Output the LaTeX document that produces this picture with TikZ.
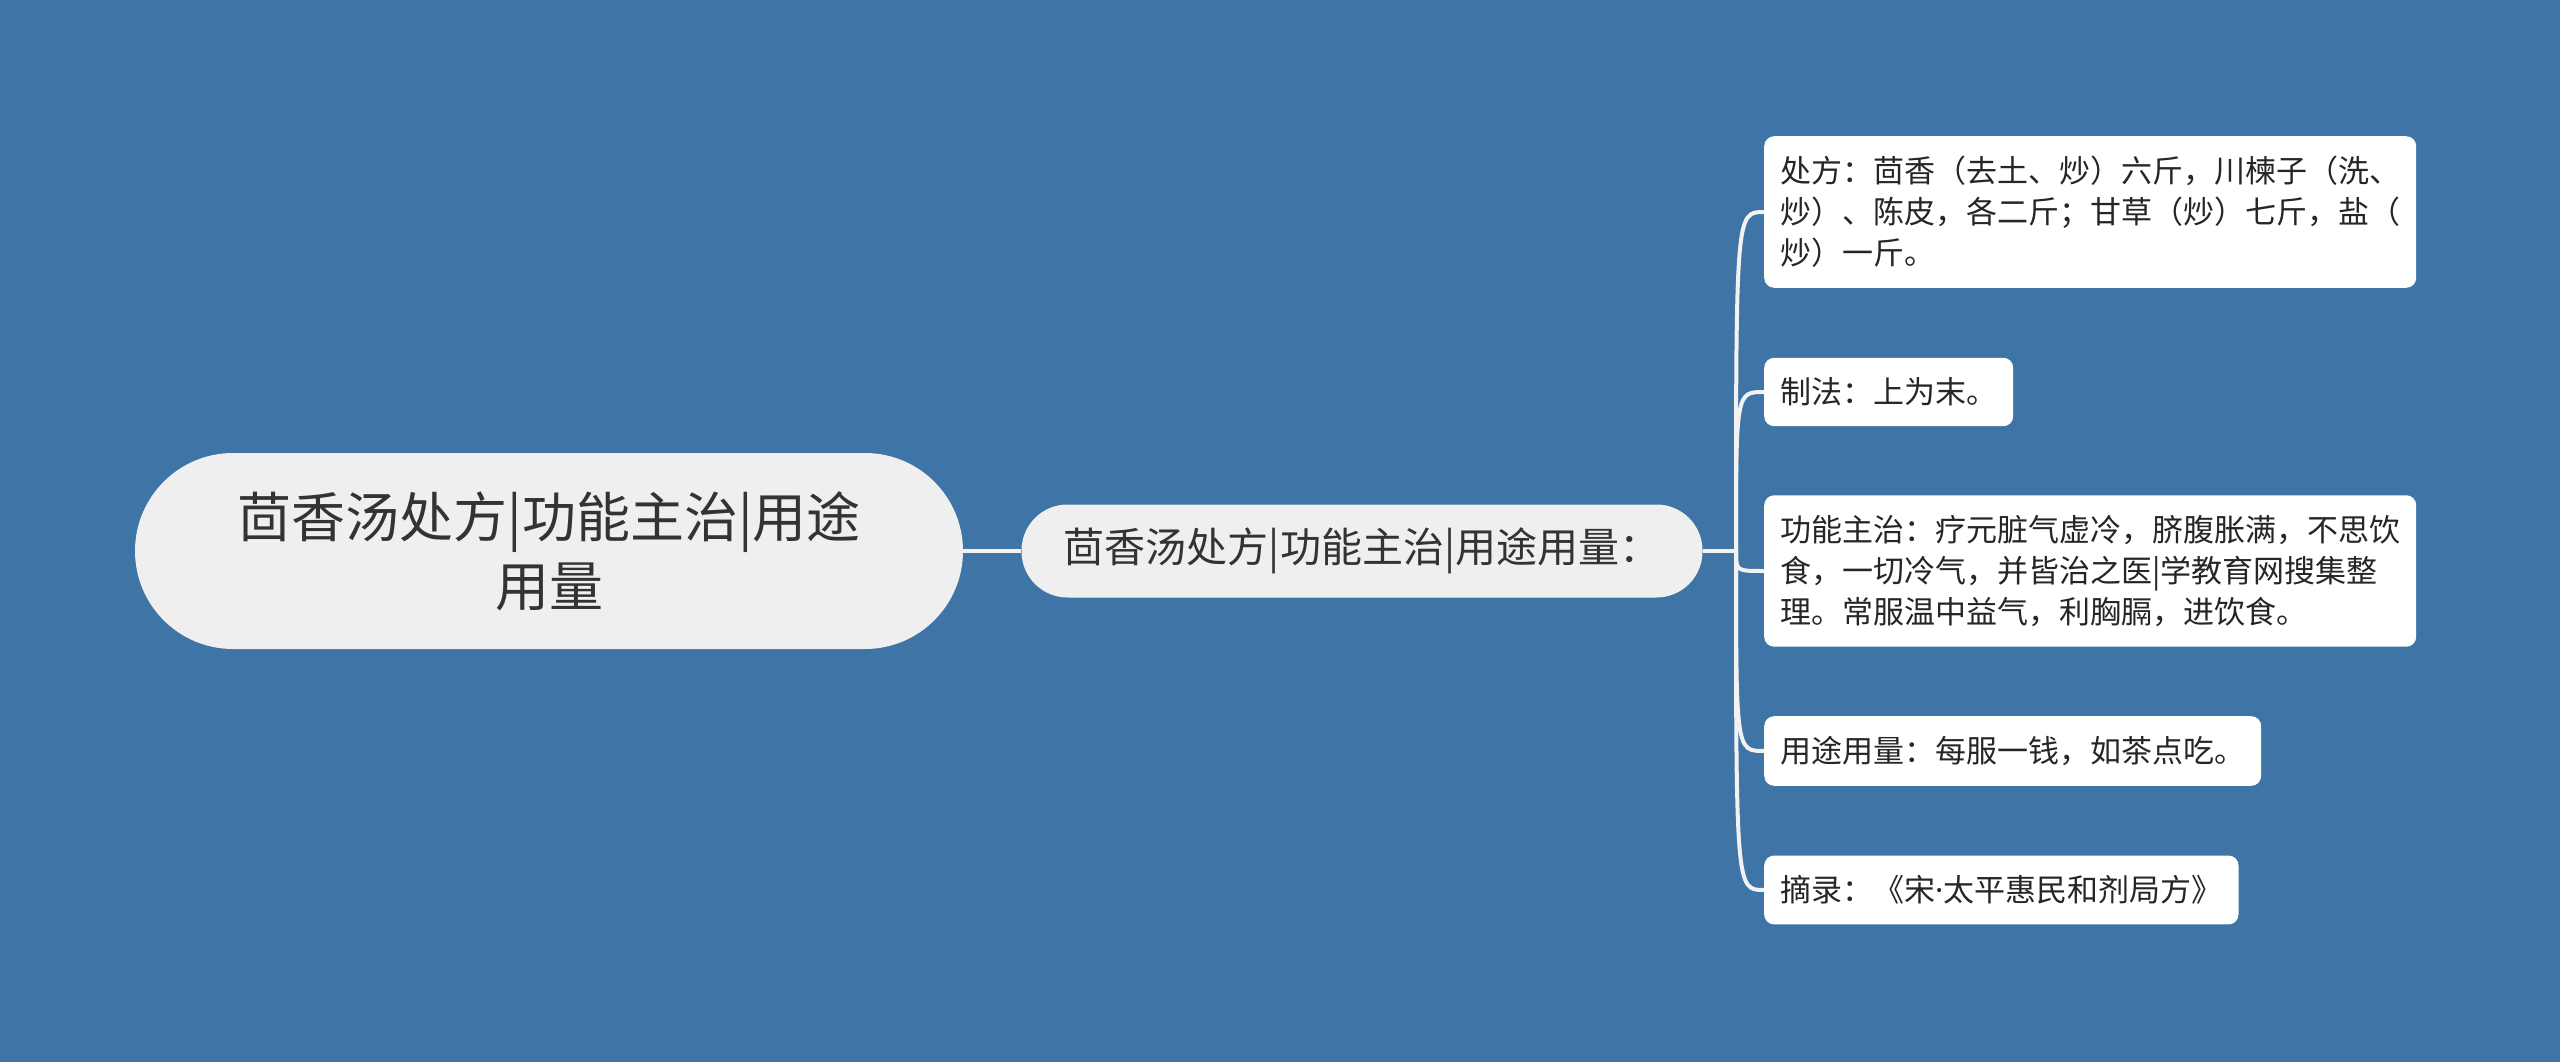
\documentclass[tikz,border=0pt]{standalone}
\usepackage{fontspec}
\setmainfont{Noto Sans CJK SC}
\newfontfamily\latinsans{Noto Sans}
\definecolor{bgblue}{HTML}{3E74A6}
\definecolor{pillgrey}{HTML}{EFEFEF}
\definecolor{inktext}{HTML}{333333}
\begin{document}
\begin{tikzpicture}[x=1pt,y=-1pt,
    rootpill/.style={fill=pillgrey, rounded corners=98pt, minimum width=828pt, minimum height=196pt,
      align=center, text=inktext, font=\fontsize{54}{69}\selectfont},
    midpill/.style={fill=pillgrey, rounded corners=46pt, minimum width=681pt, minimum height=93pt,
      text=inktext, font=\fontsize{41}{48}\selectfont},
    leafbox/.style={fill=white, rounded corners=10pt, anchor=west, align=left, inner xsep=16pt,
      inner ysep=20pt, text=black!85, font=\fontsize{31}{41}\selectfont},
    branch/.style={draw=white!95!black, line width=4pt}]
        \fill[bgblue] (0,0) rectangle (2560,1062);
        \node[rootpill] (root) at (549,551) {茴香汤处方|功能主治|用途\\用量};
        \node[midpill] (mid) at (1362,551) {茴香汤处方|功能主治|用途用量：};
        \node[leafbox] (chufang) at (1764,212) {处方：茴香（去土、炒）六斤，川楝子（洗、\\炒）、陈皮，各二斤；甘草（炒）七斤，盐（\\炒）一斤。};
        \node[leafbox] (zhifa) at (1764,392) {制法：上为末。};
        \node[leafbox] (gongneng) at (1764,571) {功能主治：疗元脏气虚冷，脐腹胀满，不思饮\\食，一切冷气，并皆治之医|学教育网搜集整\\理。常服温中益气，利胸膈，进饮食。};
        \node[leafbox] (yongtu) at (1764,751) {用途用量：每服一钱，如茶点吃。};
        \node[leafbox] (zhailu) at (1764,890) {摘录：《宋{\latinsans ·}太平惠民和剂局方》};
        \coordinate (fork) at (1736,551);
        \draw[branch] (root.east) -- (mid.west);
        \draw[branch] (mid.east) -- (fork);
        \foreach \leaf in {chufang,zhifa,gongneng,yongtu,zhailu}
            \draw[branch] (fork) .. controls (fork |- \leaf.west) .. (\leaf.west);
    \end{tikzpicture}
\end{document}
